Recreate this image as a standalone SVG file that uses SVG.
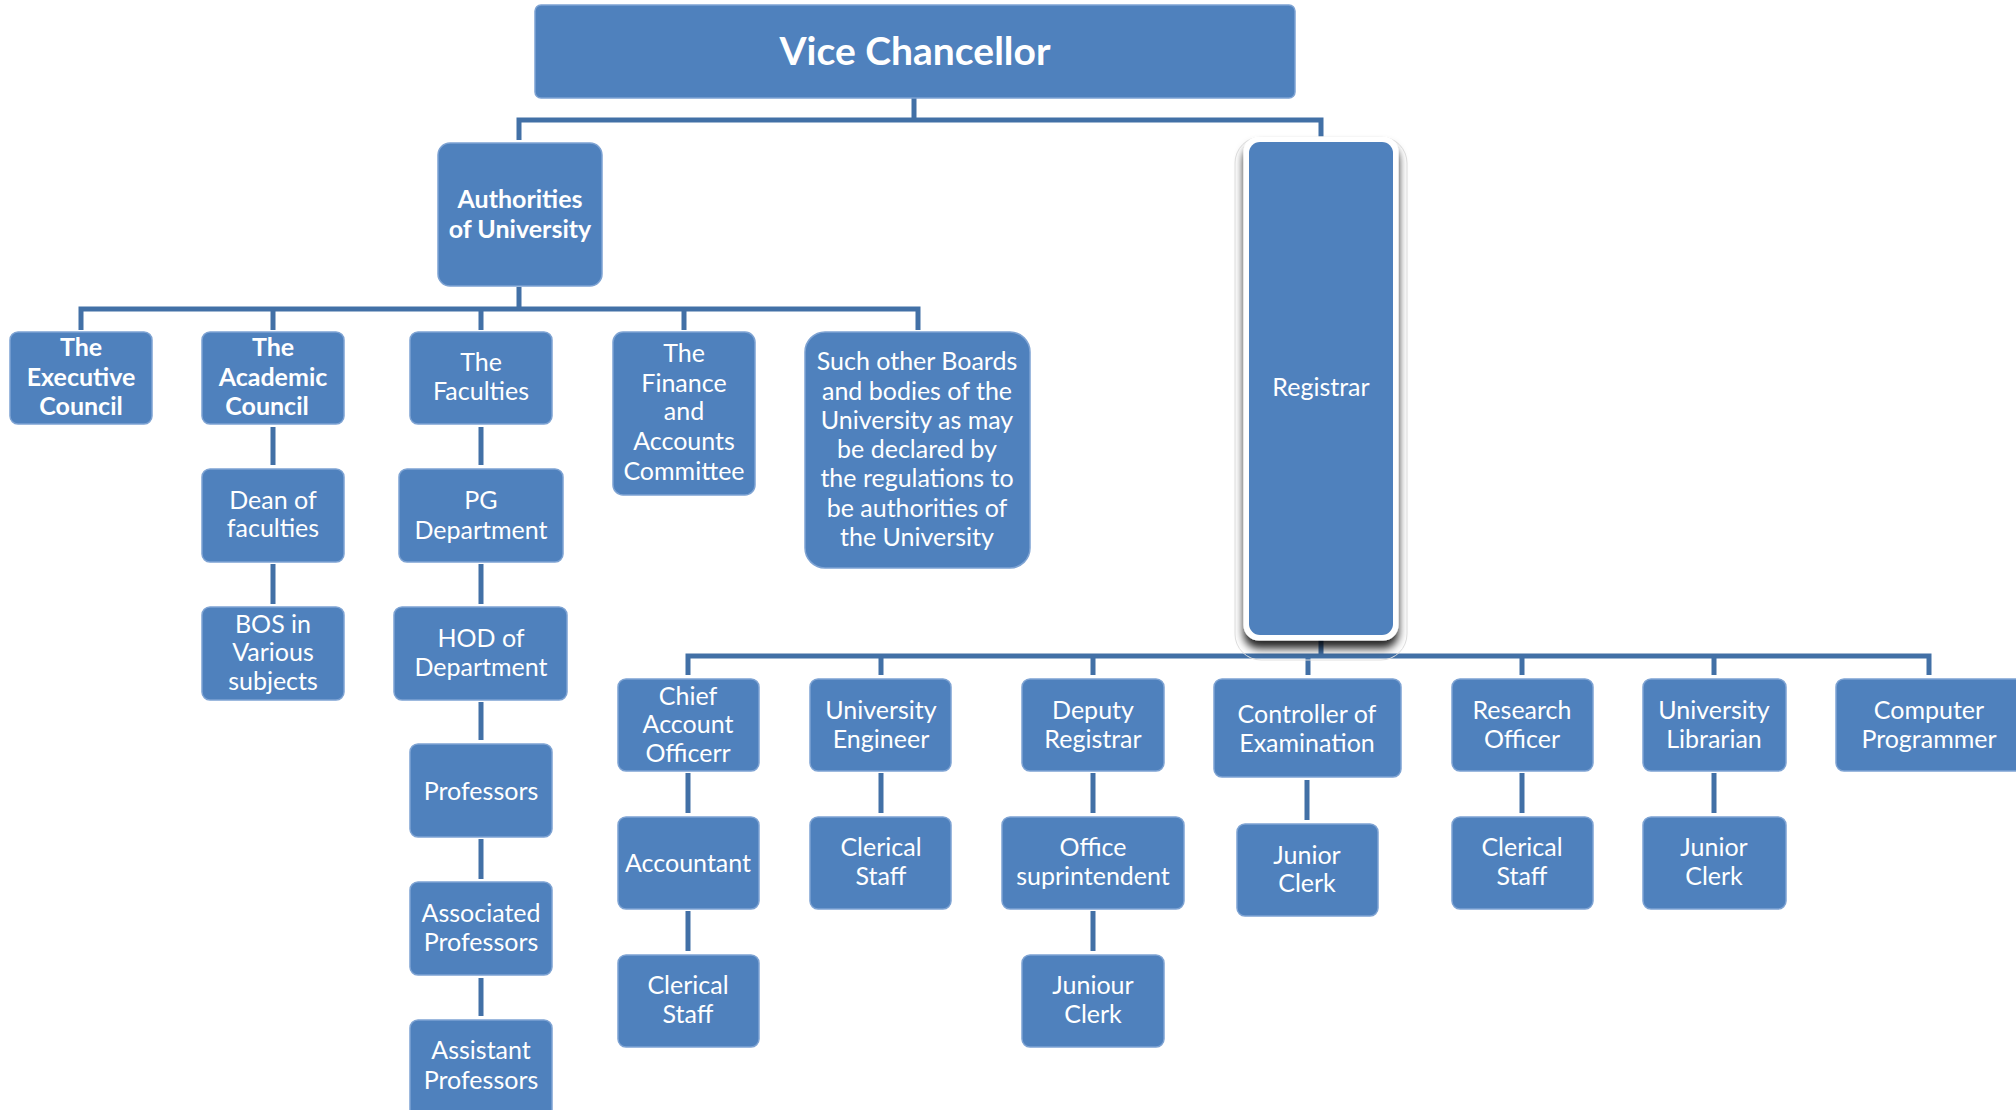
<svg xmlns="http://www.w3.org/2000/svg" width="2016" height="1110" viewBox="0 0 2016 1110">
<style>
.n{fill:#4F81BD;stroke:#7ea3d3;stroke-width:1.5}
.t{font-family:Lato,"Open Sans","Liberation Sans",sans-serif;font-size:25px;fill:#fff;text-anchor:middle}
.b{font-weight:bold}
.c{stroke:#4270a6;stroke-width:5;fill:none}
</style>
<defs>
<filter id="sh" x="-30%" y="-10%" width="160%" height="125%">
<feDropShadow dx="0" dy="8" stdDeviation="4" flood-color="#000" flood-opacity="0.85"/>
</filter>
</defs>
<rect width="2016" height="1110" fill="#fff"/>
<g id="connectors">
<path class="c" d="M914 98V120M519 140V120H1321V137"/>
<path class="c" d="M519 287V309M81 330V309H918V330M273 309V330M481 309V330M684 309V330"/>
<path class="c" d="M273 427V465M273 564V604"/>
<path class="c" d="M481 427V465M481 564V604M481 702V740M481 839V879M481 978V1016"/>
<path class="c" d="M1321 640V656M688 675V656H1929V675M881 656V675M1093 656V675M1308 656V675M1522 656V675M1714 656V675"/>
<path class="c" d="M688 773V813M688 911V951M881 773V813M1093 773V813M1093 911V951M1307 780V820M1522 773V813M1714 773V813"/>
</g>
<g id="vc"><rect class="n" x="535" y="5" width="760" height="93" rx="6"/><text class="t b" x="915" y="65" style="font-size:39px">Vice Chancellor</text></g>
<g id="authorities"><rect class="n" x="438" y="143" width="164" height="143" rx="12"/><text class="t b" x="520" y="208">Authorities</text><text class="t b" x="520" y="238">of University</text></g>
<g id="executive"><rect class="n" x="10" y="332" width="142" height="92" rx="8"/><text class="t b" x="81" y="356">The</text><text class="t b" x="81" y="386">Executive</text><text class="t b" x="81" y="415">Council</text></g>
<g id="academic"><rect class="n" x="202" y="332" width="142" height="92" rx="8"/><text class="t b" x="273" y="356">The</text><text class="t b" x="273" y="386">Academic</text><text class="t b" x="267" y="415">Council</text></g>
<g id="faculties"><rect class="n" x="410" y="332" width="142" height="92" rx="8"/><text class="t" x="481" y="371">The</text><text class="t" x="481" y="400">Faculties</text></g>
<g id="finance"><rect class="n" x="613" y="332" width="142" height="163" rx="10"/><text class="t" x="684" y="362">The</text><text class="t" x="684" y="392">Finance</text><text class="t" x="684" y="420">and</text><text class="t" x="684" y="450">Accounts</text><text class="t" x="684" y="480">Committee</text></g>
<g id="other"><rect class="n" x="805" y="332" width="225" height="236" rx="20"/><text class="t" x="917" y="370">Such other Boards</text><text class="t" x="917" y="400">and bodies of the</text><text class="t" x="917" y="429">University as may</text><text class="t" x="917" y="458">be declared by</text><text class="t" x="917" y="487">the regulations to</text><text class="t" x="917" y="517">be authorities of</text><text class="t" x="917" y="546">the University</text></g>
<g id="dean"><rect class="n" x="202" y="469" width="142" height="93" rx="8"/><text class="t" x="273" y="509">Dean of</text><text class="t" x="273" y="537">faculties</text></g>
<g id="bos"><rect class="n" x="202" y="607" width="142" height="93" rx="8"/><text class="t" x="273" y="633">BOS in</text><text class="t" x="273" y="661">Various</text><text class="t" x="273" y="690">subjects</text></g>
<g id="pg"><rect class="n" x="399" y="469" width="164" height="93" rx="8"/><text class="t" x="481" y="509">PG</text><text class="t" x="481" y="539">Department</text></g>
<g id="hod"><rect class="n" x="394" y="607" width="173" height="93" rx="8"/><text class="t" x="481" y="647">HOD of</text><text class="t" x="481" y="676">Department</text></g>
<g id="professors"><rect class="n" x="410" y="744" width="142" height="93" rx="8"/><text class="t" x="481" y="800">Professors</text></g>
<g id="associated"><rect class="n" x="410" y="882" width="142" height="93" rx="8"/><text class="t" x="481" y="922">Associated</text><text class="t" x="481" y="951">Professors</text></g>
<g id="assistant"><rect class="n" x="410" y="1020" width="142" height="100" rx="8"/><text class="t" x="481" y="1059">Assistant</text><text class="t" x="481" y="1089">Professors</text></g>
<g id="registrar">
<rect x="1235" y="137" width="172" height="523" rx="26" fill="none" stroke="#e0e0e0" stroke-width="1"/>
<rect x="1246" y="139" width="150" height="499" rx="13" fill="#fff" stroke="#fff" stroke-width="5" filter="url(#sh)"/>
<rect x="1249" y="142" width="144" height="493" rx="11" fill="#4F81BD"/>
<text class="t" x="1321" y="396">Registrar</text></g>
<g id="chief"><rect class="n" x="618" y="679" width="141" height="92" rx="8"/><text class="t" x="688" y="705">Chief</text><text class="t" x="688" y="733">Account</text><text class="t" x="688" y="762">Officerr</text></g>
<g id="engineer"><rect class="n" x="810" y="679" width="141" height="92" rx="8"/><text class="t" x="881" y="719">University</text><text class="t" x="881" y="748">Engineer</text></g>
<g id="deputy"><rect class="n" x="1022" y="679" width="142" height="92" rx="8"/><text class="t" x="1093" y="719">Deputy</text><text class="t" x="1093" y="748">Registrar</text></g>
<g id="controller"><rect class="n" x="1214" y="679" width="187" height="98" rx="8"/><text class="t" x="1307" y="723">Controller of</text><text class="t" x="1307" y="752">Examination</text></g>
<g id="research"><rect class="n" x="1452" y="679" width="141" height="92" rx="8"/><text class="t" x="1522" y="719">Research</text><text class="t" x="1522" y="748">Officer</text></g>
<g id="librarian"><rect class="n" x="1643" y="679" width="143" height="92" rx="8"/><text class="t" x="1714" y="719">University</text><text class="t" x="1714" y="748">Librarian</text></g>
<g id="programmer"><rect class="n" x="1836" y="679" width="190" height="92" rx="8"/><text class="t" x="1929" y="719">Computer</text><text class="t" x="1929" y="748">Programmer</text></g>
<g id="accountant"><rect class="n" x="618" y="817" width="141" height="92" rx="8"/><text class="t" x="688" y="872">Accountant</text></g>
<g id="clerical1"><rect class="n" x="810" y="817" width="141" height="92" rx="8"/><text class="t" x="881" y="856">Clerical</text><text class="t" x="881" y="885">Staff</text></g>
<g id="office"><rect class="n" x="1002" y="817" width="182" height="92" rx="8"/><text class="t" x="1093" y="856">Office</text><text class="t" x="1093" y="885">suprintendent</text></g>
<g id="junior1"><rect class="n" x="1237" y="824" width="141" height="92" rx="8"/><text class="t" x="1307" y="864">Junior</text><text class="t" x="1307" y="892">Clerk</text></g>
<g id="clerical2"><rect class="n" x="1452" y="817" width="141" height="92" rx="8"/><text class="t" x="1522" y="856">Clerical</text><text class="t" x="1522" y="885">Staff</text></g>
<g id="junior2"><rect class="n" x="1643" y="817" width="143" height="92" rx="8"/><text class="t" x="1714" y="856">Junior</text><text class="t" x="1714" y="885">Clerk</text></g>
<g id="clerical3"><rect class="n" x="618" y="955" width="141" height="92" rx="8"/><text class="t" x="688" y="994">Clerical</text><text class="t" x="688" y="1023">Staff</text></g>
<g id="juniour"><rect class="n" x="1022" y="955" width="142" height="92" rx="8"/><text class="t" x="1093" y="994">Juniour</text><text class="t" x="1093" y="1023">Clerk</text></g>
</svg>
